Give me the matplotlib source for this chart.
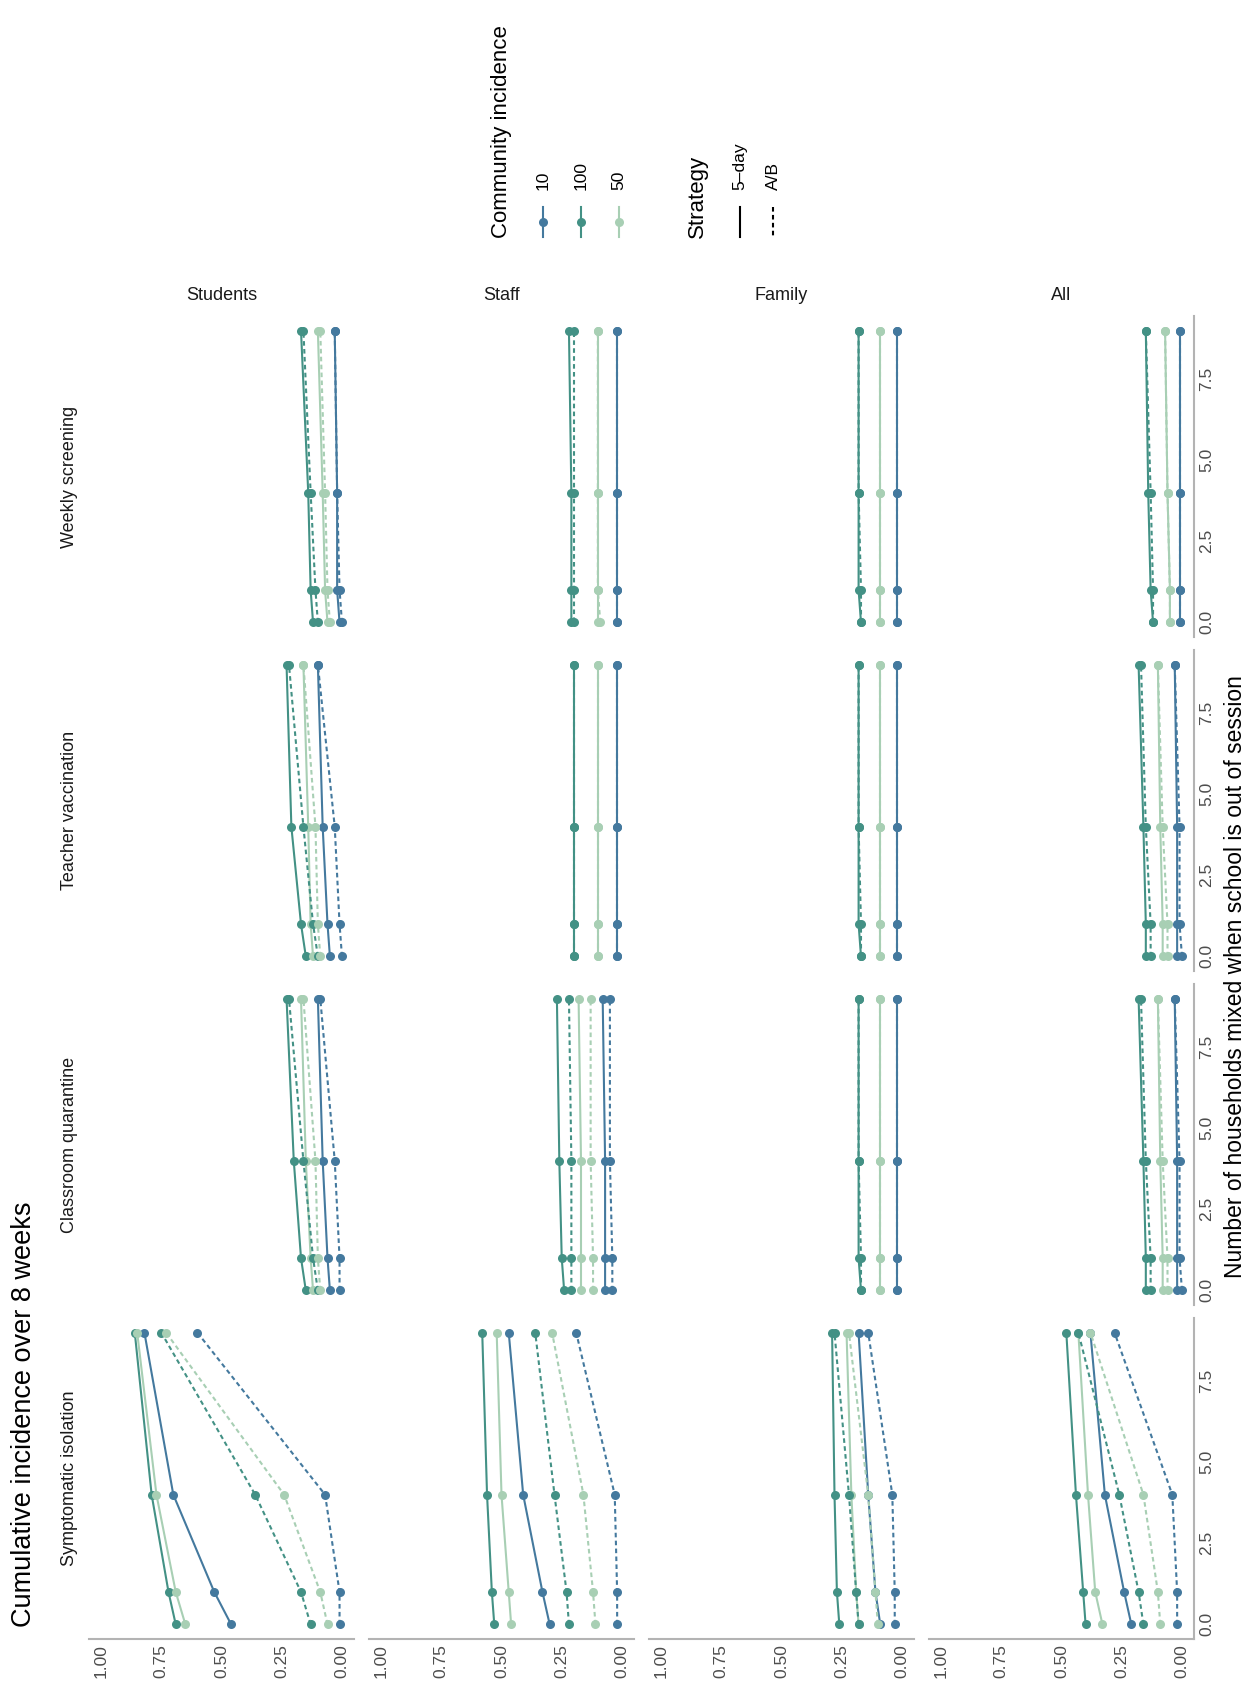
import matplotlib
matplotlib.use("Agg")
import matplotlib.pyplot as plt
from matplotlib.lines import Line2D

plt.rcParams['font.family'] = ['Liberation Sans', 'DejaVu Sans']

W, H = 1256, 1695
households = [0, 1, 4, 9]
interventions = ["Symptomatic isolation", "Classroom quarantine", "Teacher vaccination", "Weekly screening"]
groups = ["Students", "Staff", "Family", "All"]
incidences = ["10", "100", "50"]
strategies = ["5\u2013day", "A/B"]
colors = {"10": "#44799e", "100": "#439185", "50": "#a8cfb4"}

# data[intervention][group][(incidence, strategy)] = values at households 0,1,4,9
SI_students = {("10", "5-day"): [0.46, 0.53, 0.70, 0.82], ("10", "A/B"): [0.01, 0.01, 0.07, 0.60],
               ("100", "5-day"): [0.69, 0.72, 0.79, 0.86], ("100", "A/B"): [0.13, 0.17, 0.36, 0.75],
               ("50", "5-day"): [0.65, 0.69, 0.77, 0.85], ("50", "A/B"): [0.06, 0.09, 0.24, 0.73]}
SI_staff = {("10", "5-day"): [0.30, 0.33, 0.41, 0.47], ("10", "A/B"): [0.02, 0.02, 0.03, 0.19],
            ("100", "5-day"): [0.53, 0.54, 0.56, 0.58], ("100", "A/B"): [0.22, 0.23, 0.28, 0.36],
            ("50", "5-day"): [0.46, 0.47, 0.50, 0.52], ("50", "A/B"): [0.11, 0.12, 0.16, 0.29]}
SI_family = {("10", "5-day"): [0.09, 0.11, 0.14, 0.18], ("10", "A/B"): [0.03, 0.03, 0.04, 0.14],
             ("100", "5-day"): [0.26, 0.27, 0.28, 0.29], ("100", "A/B"): [0.18, 0.19, 0.22, 0.28],
             ("50", "5-day"): [0.18, 0.19, 0.21, 0.23], ("50", "A/B"): [0.10, 0.11, 0.14, 0.22]}
SI_all = {("10", "5-day"): [0.21, 0.24, 0.32, 0.38], ("10", "A/B"): [0.02, 0.02, 0.04, 0.28],
          ("100", "5-day"): [0.40, 0.41, 0.44, 0.48], ("100", "A/B"): [0.16, 0.18, 0.26, 0.43],
          ("50", "5-day"): [0.33, 0.36, 0.39, 0.43], ("50", "A/B"): [0.09, 0.10, 0.16, 0.38]}

CQ_students = {("10", "5-day"): [0.05, 0.06, 0.08, 0.10], ("10", "A/B"): [0.01, 0.01, 0.03, 0.09],
               ("100", "5-day"): [0.15, 0.17, 0.20, 0.23], ("100", "A/B"): [0.10, 0.12, 0.16, 0.22],
               ("50", "5-day"): [0.12, 0.13, 0.15, 0.17], ("50", "A/B"): [0.09, 0.10, 0.11, 0.16]}
CQ_staff = {("10", "5-day"): [0.07, 0.07, 0.07, 0.08], ("10", "A/B"): [0.04, 0.04, 0.05, 0.05],
            ("100", "5-day"): [0.24, 0.25, 0.26, 0.27], ("100", "A/B"): [0.21, 0.21, 0.21, 0.22],
            ("50", "5-day"): [0.17, 0.17, 0.17, 0.18], ("50", "A/B"): [0.12, 0.12, 0.13, 0.13]}
OT_family = {("10", "5-day"): [0.02, 0.02, 0.02, 0.02], ("10", "A/B"): [0.02, 0.02, 0.02, 0.02],
             ("100", "5-day"): [0.17, 0.18, 0.18, 0.18], ("100", "A/B"): [0.17, 0.17, 0.18, 0.18],
             ("50", "5-day"): [0.09, 0.09, 0.09, 0.09], ("50", "A/B"): [0.09, 0.09, 0.09, 0.09]}
CQ_all = {("10", "5-day"): [0.02, 0.02, 0.02, 0.03], ("10", "A/B"): [0.00, 0.01, 0.01, 0.03],
          ("100", "5-day"): [0.15, 0.15, 0.16, 0.18], ("100", "A/B"): [0.13, 0.13, 0.15, 0.17],
          ("50", "5-day"): [0.08, 0.08, 0.09, 0.10], ("50", "A/B"): [0.06, 0.06, 0.08, 0.10]}

TV_students = {("10", "5-day"): [0.05, 0.06, 0.08, 0.10], ("10", "A/B"): [0.00, 0.01, 0.03, 0.10],
               ("100", "5-day"): [0.15, 0.17, 0.21, 0.23], ("100", "A/B"): [0.10, 0.12, 0.16, 0.22],
               ("50", "5-day"): [0.12, 0.13, 0.14, 0.16], ("50", "A/B"): [0.09, 0.10, 0.11, 0.16]}
TV_staff = {("10", "5-day"): [0.02, 0.02, 0.02, 0.02], ("10", "A/B"): [0.02, 0.02, 0.02, 0.02],
            ("100", "5-day"): [0.20, 0.20, 0.20, 0.20], ("100", "A/B"): [0.20, 0.20, 0.20, 0.20],
            ("50", "5-day"): [0.10, 0.10, 0.10, 0.10], ("50", "A/B"): [0.10, 0.10, 0.10, 0.10]}

WS_students = {("10", "5-day"): [0.01, 0.02, 0.02, 0.03], ("10", "A/B"): [0.00, 0.01, 0.02, 0.03],
               ("100", "5-day"): [0.12, 0.13, 0.14, 0.17], ("100", "A/B"): [0.10, 0.11, 0.13, 0.16],
               ("50", "5-day"): [0.06, 0.07, 0.08, 0.10], ("50", "A/B"): [0.05, 0.06, 0.07, 0.09]}
WS_staff = {("10", "5-day"): [0.02, 0.02, 0.02, 0.02], ("10", "A/B"): [0.02, 0.02, 0.02, 0.02],
            ("100", "5-day"): [0.21, 0.21, 0.21, 0.22], ("100", "A/B"): [0.20, 0.20, 0.20, 0.20],
            ("50", "5-day"): [0.10, 0.10, 0.10, 0.10], ("50", "A/B"): [0.09, 0.10, 0.10, 0.10]}
WS_all = {("10", "5-day"): [0.01, 0.01, 0.01, 0.01], ("10", "A/B"): [0.01, 0.01, 0.01, 0.01],
          ("100", "5-day"): [0.12, 0.13, 0.14, 0.15], ("100", "A/B"): [0.12, 0.12, 0.13, 0.15],
          ("50", "5-day"): [0.05, 0.05, 0.06, 0.07], ("50", "A/B"): [0.05, 0.05, 0.06, 0.07]}

data = {
    "Symptomatic isolation": [SI_students, SI_staff, SI_family, SI_all],
    "Classroom quarantine": [CQ_students, CQ_staff, OT_family, CQ_all],
    "Teacher vaccination": [TV_students, TV_staff, OT_family, CQ_all],
    "Weekly screening": [WS_students, WS_staff, OT_family, WS_all],
}

fig = plt.figure(figsize=(W / 100, H / 100), dpi=100)

def fx(px): return px / W
def fy(py): return 1 - py / H

col_left = [89, 369, 649, 929]
pw = 265
row_top = [1318, 984, 650, 316]
ph = 321
grey = "#b3b3b3"
tcol = "#4d4d4d"
dash = (0, (2.2, 1.6))

for r, iv in enumerate(interventions):
    for c, g in enumerate(groups):
        ax = fig.add_axes([fx(col_left[c]), fy(row_top[r] + ph), pw / W, ph / H])
        d = data[iv][c]
        for strat in ["5-day", "A/B"]:
            for inc in incidences:
                ax.plot(d[(inc, strat)], households, color=colors[inc], lw=1.5,
                        ls='-' if strat == "5-day" else dash,
                        marker='o', ms=6.5, mec='none')
        ax.set_xlim(1.05, -0.05)
        ax.set_ylim(-0.45, 9.45)
        for s in ax.spines.values():
            s.set_visible(False)
        ax.tick_params(length=0, labelsize=12.5, labelcolor=tcol, pad=4)
        ax.set_xticks([1.0, 0.75, 0.5, 0.25, 0.0])
        ax.set_yticks([0, 2.5, 5, 7.5])
        if r == 0:
            ax.spines['bottom'].set_visible(True)
            ax.spines['bottom'].set_color(grey)
            ax.spines['bottom'].set_linewidth(1.5)
            ax.set_xticklabels(["1.00", "0.75", "0.50", "0.25", "0.00"], rotation=90)
        else:
            ax.set_xticklabels([])
        ax.yaxis.tick_right()
        if c == 3:
            ax.spines['right'].set_visible(True)
            ax.spines['right'].set_color(grey)
            ax.spines['right'].set_linewidth(1.5)
            ax.set_yticklabels(["0.0", "2.5", "5.0", "7.5"], rotation=90, va='center')
        else:
            ax.set_yticklabels([])
        ax.patch.set_alpha(0)

# strip labels
for c, g in enumerate(groups):
    fig.text(fx(col_left[c] + pw / 2), fy(296), g, ha='center', va='center', fontsize=13, color="#1a1a1a")
for r, iv in enumerate(interventions):
    fig.text(fx(70), fy(row_top[r] + ph / 2), iv, rotation=90, ha='center', va='center', fontsize=13, color="#1a1a1a")

fig.text(fx(24), fy(1627), "Cumulative incidence over 8 weeks", rotation=90, ha='center', va='bottom', fontsize=19.5)
fig.text(fx(1236), fy(977), "Number of households mixed when school is out of session",
         rotation=90, ha='center', va='center', fontsize=16.5)

# legend
fig.text(fx(502), fy(238), "Community incidence", rotation=90, ha='center', va='bottom', fontsize=16)
for i, inc in enumerate(incidences):
    x = [543, 581, 619][i]
    fig.add_artist(Line2D([fx(x), fx(x)], [fy(207), fy(237)], color=colors[inc], lw=1.5))
    fig.add_artist(Line2D([fx(x)], [fy(222)], color=colors[inc], marker='o', ms=6.5, mec='none'))
    fig.text(fx(x), fy(190), inc, rotation=90, ha='center', va='bottom', fontsize=12.5)
fig.text(fx(697), fy(238), "Strategy", rotation=90, ha='center', va='bottom', fontsize=16)
for i, st in enumerate(strategies):
    x = [740, 773][i]
    fig.add_artist(Line2D([fx(x), fx(x)], [fy(207), fy(237)], color='black', lw=1.5,
                          ls='-' if i == 0 else dash))
    fig.text(fx(x), fy(190), st, rotation=90, ha='center', va='bottom', fontsize=12.5)

fig.savefig("out.png", dpi=100, facecolor='white')
